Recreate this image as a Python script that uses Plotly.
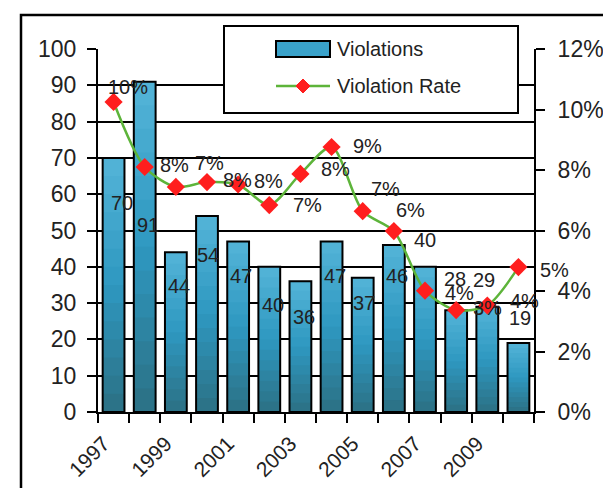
import plotly.graph_objects as go

# ---- data ----
years = [1997, 1998, 1999, 2000, 2001, 2002, 2003, 2004, 2005, 2006, 2007, 2008, 2009, 2010]
violations = [70, 91, 44, 54, 47, 40, 36, 47, 37, 46, 40, 28, 29, 19]
violation_rate = [0.1025, 0.081, 0.0744, 0.076, 0.0752, 0.0684, 0.0787, 0.0876, 0.0664, 0.0598, 0.0401, 0.0337, 0.0352, 0.0479]
year_labels = ["1997", "1999", "2001", "2003", "2005", "2007", "2009"]
label_years = [1997, 1999, 2001, 2003, 2005, 2007, 2009]

# ---- style (label nudges in pixels, as placed in the original) ----
bar_lbl_dx = [8, 3, 3, 1, 3, 4, 4, 3, 1, 3, 0, -1, -3, 2]
bar_lbl_dy = [45, 143, 34, 39, 35, 38, 36, 35, 25, 31, -27, -31, -27, -25]
rate_lbl_dx = [14, 30, 34, 30, 30, 38, 35, 36, 23, 17, 34, 31, 37, 36]
rate_lbl_dy = [-15, -2, -24, -2, -4, 0, -5, -1, -22, -21, 2, -2, -5, 3]

FONT = "Liberation Sans, Arial, sans-serif"
LINE_COLOR = "#5DB43A"
MARK_COLOR = "#FF1E1E"
TXT = "#222222"
# vertical shading of the bars: (fraction of bar height from the bottom, colour)
SHADE_STOPS = [(0.0, (44, 112, 132)), (0.5, (46, 152, 192)), (1.0, (84, 180, 216))]
N_SHADES = 14


def shade(f):
    for (f0, c0), (f1, c1) in zip(SHADE_STOPS[:-1], SHADE_STOPS[1:]):
        if f0 <= f <= f1:
            t = (f - f0) / (f1 - f0)
            c = [round(a + (b - a) * t) for a, b in zip(c0, c1)]
            return f"rgb({c[0]},{c[1]},{c[2]})"
    return "rgb(60,160,200)"


fig = go.Figure()
# shaded fill layers (tallest first, each lower band drawn over it)
for k in range(N_SHADES):
    frac = 1 - k / N_SHADES
    fig.add_trace(go.Bar(
        x=years, y=[v * frac for v in violations], width=0.7,
        marker=dict(color=shade(frac - 0.5 / N_SHADES), line=dict(width=0)),
        showlegend=False, hoverinfo="skip",
    ))
# the bars themselves (outline)
fig.add_trace(go.Bar(
    x=years, y=violations, width=0.7, name="Violations",
    marker=dict(color="rgba(0,0,0,0)", line=dict(color="black", width=2)),
    showlegend=False,
))
fig.add_trace(go.Scatter(
    x=years, y=violation_rate, yaxis="y2", name="Violation Rate", mode="lines+markers",
    line=dict(color=LINE_COLOR, width=2.5, shape="spline", smoothing=0.8),
    marker=dict(symbol="diamond", size=14, color=MARK_COLOR),
    showlegend=False,
))

annotations = []
for i, (x, v) in enumerate(zip(years, violations)):
    annotations.append(dict(x=x, y=v, xref="x", yref="y", text=str(v), showarrow=False,
                            xshift=bar_lbl_dx[i], yshift=-bar_lbl_dy[i],
                            font=dict(family=FONT, size=20, color=TXT)))
for i, (x, r) in enumerate(zip(years, violation_rate)):
    annotations.append(dict(x=x, y=r, xref="x", yref="y2", text=f"{r*100:.0f}%", showarrow=False,
                            xshift=rate_lbl_dx[i], yshift=-rate_lbl_dy[i],
                            font=dict(family=FONT, size=20, color=TXT)))

# plot area in pixels
L, R, T, B = 90, 526, 41, 404
W, H = R - L, B - T


def px(x):
    return (x - L) / W


def py(y):
    return (B - y) / H


shapes = [
    # outer frame
    dict(type="rect", xref="paper", yref="paper", x0=px(13), x1=px(607), y0=py(500), y1=py(7),
         line=dict(color="black", width=2.5), fillcolor="rgba(0,0,0,0)", layer="above"),
    # legend box
    dict(type="rect", xref="paper", yref="paper", x0=px(216), x1=px(510), y0=py(105), y1=py(18),
         line=dict(color="black", width=2), fillcolor="white", layer="above"),
    # bar swatch
    dict(type="rect", xref="paper", yref="paper", x0=px(268), x1=px(322), y0=py(49), y1=py(33),
         line=dict(color="black", width=2), fillcolor="#3AA2CA", layer="above"),
    # line swatch
    dict(type="line", xref="paper", yref="paper", x0=px(268), x1=px(322), y0=py(78), y1=py(78),
         line=dict(color=LINE_COLOR, width=2.5), layer="above"),
    # diamond swatch
    dict(type="path", xref="paper", yref="paper",
         path=f"M {px(295)},{py(71)} L {px(302)},{py(78)} L {px(295)},{py(85)} L {px(288)},{py(78)} Z",
         line=dict(color=MARK_COLOR, width=1), fillcolor=MARK_COLOR, layer="above"),
]
annotations += [
    dict(xref="paper", yref="paper", x=px(327), y=py(41), text="Violations", showarrow=False,
         xanchor="left", yanchor="middle", font=dict(family=FONT, size=20, color=TXT)),
    dict(xref="paper", yref="paper", x=px(327), y=py(78), text="Violation Rate", showarrow=False,
         xanchor="left", yanchor="middle", font=dict(family=FONT, size=20, color=TXT)),
]

fig.update_layout(
    width=611, height=488,
    margin=dict(l=L, r=611 - R, t=T, b=488 - B, pad=0),
    paper_bgcolor="white", plot_bgcolor="white",
    font=dict(family=FONT, color=TXT),
    barmode="overlay",
    shapes=shapes, annotations=annotations,
    xaxis=dict(
        range=[1996.5, 2010.5], tickvals=label_years, ticktext=year_labels,
        ticks="", tickangle=-45, tickfont=dict(family=FONT, size=21, color=TXT),
        ticklabelshift=-10, ticklabelstandoff=9,
        minor=dict(tickvals=[y - 0.5 for y in years] + [years[-1] + 0.5], ticks="outside",
                   ticklen=9, tickwidth=2, tickcolor="black"),
        showline=True, linecolor="black", linewidth=2, showgrid=False, zeroline=False,
    ),
    yaxis=dict(
        range=[0, 100], dtick=10, ticks="outside", ticklen=9, tickwidth=2, tickcolor="black",
        tickfont=dict(family=FONT, size=23, color=TXT), ticklabelstandoff=6,
        showline=True, linecolor="black", linewidth=2,
        showgrid=True, gridcolor="black", gridwidth=2, zeroline=False,
    ),
    yaxis2=dict(
        range=[0, 0.12], dtick=0.02, tickformat=".0%", overlaying="y", side="right",
        ticks="outside", ticklen=9, tickwidth=2, tickcolor="black",
        tickfont=dict(family=FONT, size=23, color=TXT), ticklabelstandoff=8,
        showline=True, linecolor="black", linewidth=2, showgrid=False, zeroline=False,
    ),
)

fig.write_html("out.html")
